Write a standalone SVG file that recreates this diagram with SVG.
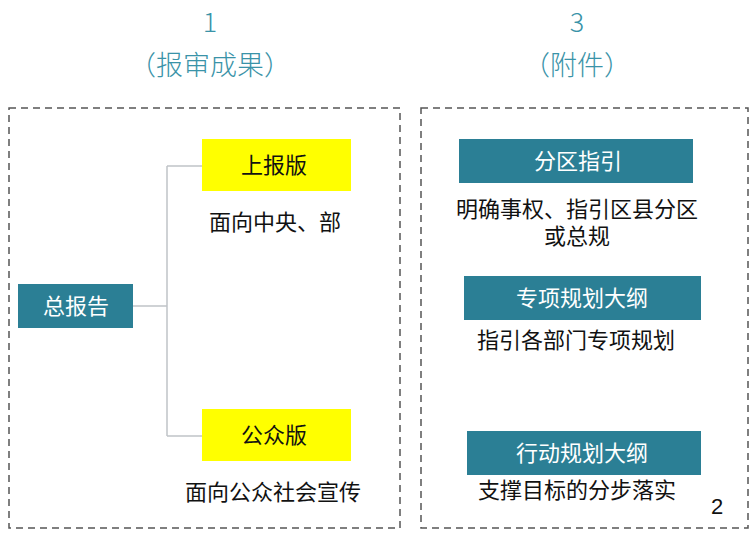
<svg xmlns="http://www.w3.org/2000/svg" width="753" height="534" viewBox="0 0 753 534">
<style>
text{font-family:"Noto Sans CJK SC","Liberation Sans",sans-serif;text-anchor:middle}
.hd{fill:#3a93a8;font-size:27px;font-weight:300}
.frame{fill:none;stroke:#555;stroke-width:1.5;stroke-dasharray:7,5}
.teal{fill:#2b7f95}
.yel{fill:#ffff00}
.wt{fill:#fff;font-size:22px}
.bt{fill:#111;font-size:22px}
.conn{fill:none;stroke:#c0c4c8;stroke-width:1.5}
</style>
<rect width="753" height="534" fill="#fff"/>
<text class="hd" x="210" y="32">1</text>
<text class="hd" x="210" y="75">（报审成果）</text>
<text class="hd" x="577" y="32">3</text>
<text class="hd" x="577" y="75">（附件）</text>
<rect class="frame" x="9" y="108" width="391" height="420"/>
<rect class="frame" x="421" y="108" width="327" height="420"/>
<g id="connectors"><path class="conn" d="M133,306H167M167,166V436M167,166H202M167,436H202"/></g>
<g id="n-total"><rect class="teal" x="18" y="284" width="115" height="44"/><text class="wt" x="76" y="314">总报告</text></g>
<g id="n-report"><rect class="yel" x="202" y="139" width="149" height="52"/><text class="bt" x="274" y="173">上报版</text><text class="bt" x="275" y="230">面向中央、部</text></g>
<g id="n-public"><rect class="yel" x="202" y="409" width="149" height="52"/><text class="bt" x="274" y="443">公众版</text><text class="bt" x="273" y="500">面向公众社会宣传</text></g>
<g id="n-zone"><rect class="teal" x="459" y="139" width="234" height="44"/><text class="wt" x="578" y="169">分区指引</text><text class="bt" x="577" y="217">明确事权、指引区县分区</text><text class="bt" x="577" y="244">或总规</text></g>
<g id="n-special"><rect class="teal" x="464" y="276" width="237" height="44"/><text class="wt" x="582" y="306">专项规划大纲</text><text class="bt" x="576" y="348">指引各部门专项规划</text></g>
<g id="n-action"><rect class="teal" x="467" y="431" width="234" height="44"/><text class="wt" x="582" y="461">行动规划大纲</text><text class="bt" x="577" y="498">支撑目标的分步落实</text></g>
<text x="717" y="514" style="font-family:'Liberation Sans',sans-serif;font-size:22px;fill:#111">2</text>
</svg>
